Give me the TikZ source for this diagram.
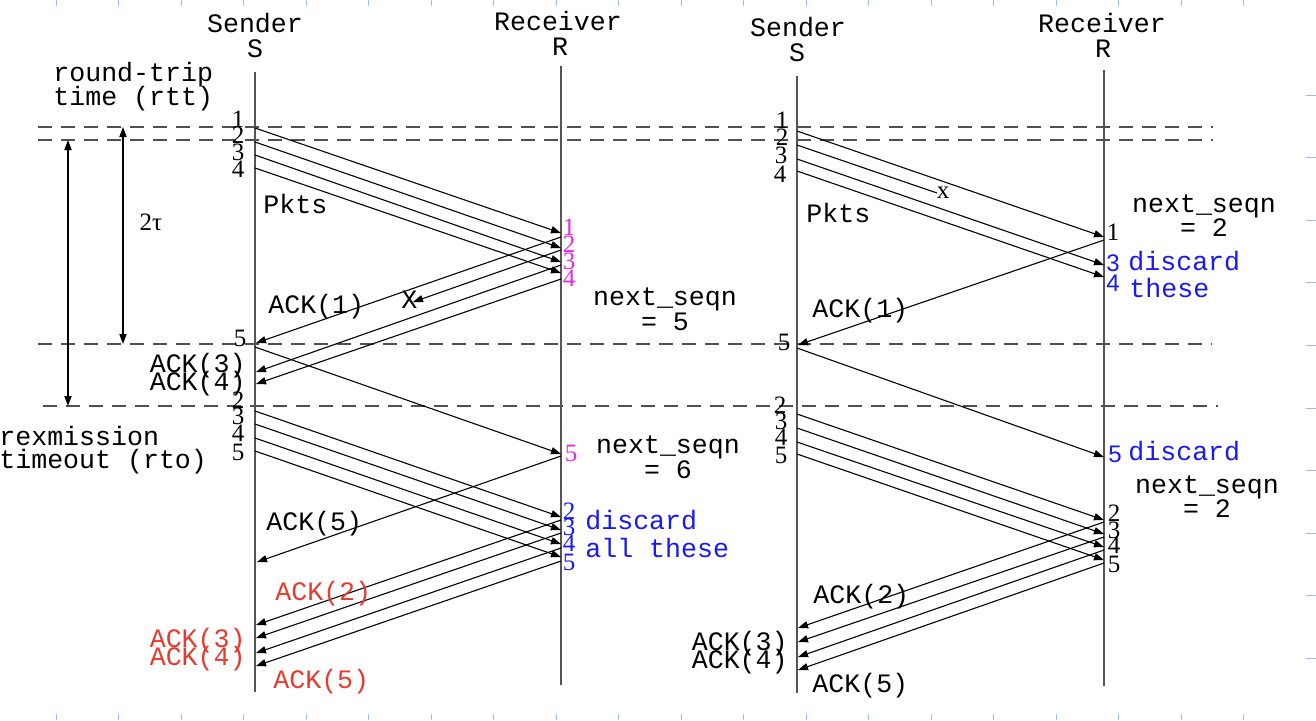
\documentclass[tikz,border=0pt]{standalone}
\usepackage{fontspec}
\setmainfont{Liberation Serif}
\setmonofont{Liberation Mono}
\newfontfamily\sansdig{Liberation Sans}
\usetikzlibrary{arrows.meta}
\definecolor{lifegray}{RGB}{85,85,85}
\definecolor{dashgray}{RGB}{80,80,80}
\definecolor{ackred}{RGB}{229,58,46}
\definecolor{pktmag}{RGB}{230,40,230}
\definecolor{dblue}{RGB}{25,25,240}
\definecolor{tickblue}{RGB}{165,185,228}
\begin{document}
\begin{tikzpicture}[x=0.5pt,y=-0.5pt,
  life/.style={draw=lifegray,line width=0.8pt},
  msg/.style={draw=black,line width=0.55pt,-{Triangle[length=5pt,width=3.6pt]}},
  lostmsg/.style={draw=black,line width=0.55pt},
  sepline/.style={draw=dashgray,line width=0.75pt,dash pattern=on 7pt off 4.5pt},
  dimarrow/.style={draw=black,line width=0.6pt,{Triangle[length=5pt,width=3.6pt]}-{Triangle[length=5pt,width=3.6pt]}},
  mono/.style={font=\fontsize{13.3}{14}\ttfamily,inner sep=0pt},
  num/.style={font=\fontsize{12.5}{13}\selectfont,inner sep=0pt},
  sdig/.style={font=\fontsize{12}{13}\sansdig,inner sep=0pt},
  tickmark/.style={draw=tickblue,line width=0.5pt}]
\useasboundingbox (0,0) rectangle (1316,720);

% frame ticks
\foreach \i in {0,...,19} {
  \draw[tickmark] (56+62.5*\i,0) -- (56+62.5*\i,6);
  \draw[tickmark] (56+62.5*\i,714) -- (56+62.5*\i,720);
}
\foreach \k in {0,...,9} {
  \draw[tickmark] (1306,95+62.6*\k) -- (1316,95+62.6*\k);
}

% lifelines
\coordinate (LSt) at (255,72);  \coordinate (LSb) at (255,692);
\coordinate (LRt) at (561,66);  \coordinate (LRb) at (561,685);
\coordinate (RSt) at (797,76);  \coordinate (RSb) at (797,693);
\coordinate (RRt) at (1104,70); \coordinate (RRb) at (1104,686);
\draw[life] (LSt) -- (LSb);
\draw[life] (LRt) -- (LRb);
\draw[life] (RSt) -- (RSb);
\draw[life] (RRt) -- (RRb);

% dashed separators
\coordinate (D1a) at (38,127);  \coordinate (D1b) at (1213,127);
\coordinate (D2a) at (38,140);  \coordinate (D2b) at (1213,140);
\coordinate (D3a) at (38,344);  \coordinate (D3b) at (1212,344);
\coordinate (D4a) at (43,406);  \coordinate (D4b) at (1218,406);
\draw[sepline] (D1a) -- (D1b);
\draw[sepline] (D2a) -- (D2b);
\draw[sepline] (D3a) -- (D3b);
\draw[sepline] (D4a) -- (D4b);

% rtt / rto arrows
\coordinate (Ta) at (123,127); \coordinate (Tb) at (123,344);
\coordinate (Oa) at (68,140);  \coordinate (Ob) at (68,406);
\draw[dimarrow] (Ta) -- (Tb);
\draw[dimarrow] (Oa) -- (Ob);

% headers
\node[mono,anchor=base] (hLS) at (255,32) {Sender};
\node[mono,anchor=base] (hLS2) at (255,57) {S};
\node[mono,anchor=base] (hLR) at (558,30) {Receiver};
\node[mono,anchor=base] (hLR2) at (560,55) {R};
\node[mono,anchor=base] (hRS) at (798,36) {Sender};
\node[mono,anchor=base] (hRS2) at (797,61) {S};
\node[mono,anchor=base] (hRR) at (1102,32) {Receiver};
\node[mono,anchor=base] (hRR2) at (1103,57) {R};

% left annotations
\node[mono,anchor=base west] (rtt1) at (53,81) {round-trip};
\node[mono,anchor=base west] (rtt2) at (53,105) {time (rtt)};
\node[num] (tau) at (151,222) {2τ};
\node[mono,anchor=base west] (rto1) at (-1,445) {rexmission};
\node[mono,anchor=base west] (rto2) at (-1,468) {timeout (rto)};

% ===== LEFT DIAGRAM =====
% first window
\foreach \n/\ys/\yr in {1/128/233, 2/142/248, 3/155/262, 4/168/273} {
  \coordinate (Lp\n s) at (255,\ys); \coordinate (Lp\n r) at (561,\yr);
  \draw[msg] (Lp\n s) -- (Lp\n r);
}
\foreach \n/\yr/\ys in {1/237/343, 3/265/372, 4/279/384} {
  \coordinate (La\n r) at (561,\yr); \coordinate (La\n s) at (256,\ys);
  \draw[msg] (La\n r) -- (La\n s);
}
\coordinate (La2r) at (561,250); \coordinate (La2x) at (413,302);
\draw[msg] (La2r) -- (La2x);
% packet 5 and ack 5
\coordinate (Lp5s) at (255,347); \coordinate (Lp5r) at (561,454);
\draw[msg] (Lp5s) -- (Lp5r);
\coordinate (La5r) at (561,456); \coordinate (La5s) at (257,562);
\draw[msg] (La5r) -- (La5s);
% retransmissions
\foreach \n/\ys/\yr in {2/411/517, 3/424/530, 4/438/544, 5/451/557} {
  \coordinate (Lq\n s) at (255,\ys); \coordinate (Lq\n r) at (561,\yr);
  \draw[msg] (Lq\n s) -- (Lq\n r);
}
\foreach \n/\yr/\ys in {2/520/625, 3/533/638, 4/548/653, 5/561/666} {
  \coordinate (Lb\n r) at (561,\yr); \coordinate (Lb\n s) at (256,\ys);
  \draw[msg] (Lb\n r) -- (Lb\n s);
}

% left sender numbers
\node[num] (ls1) at (238,119) {1};
\node[num] (ls2) at (238,135) {2};
\node[num] (ls3) at (238,152) {3};
\node[num] (ls4) at (238,169) {4};
\node[num] (ls5) at (240,338) {5};
\node[num] (ls2b) at (238,400) {2};
\node[num] (ls3b) at (238,416) {3};
\node[num] (ls4b) at (238,433) {4};
\node[num] (ls5b) at (238,452) {5};
% left receiver numbers
\node[num,text=pktmag] (lr1) at (569,227) {1};
\node[num,text=pktmag] (lr2) at (569,244) {2};
\node[num,text=pktmag] (lr3) at (569,261) {3};
\node[num,text=pktmag] (lr4) at (569,278) {4};
\node[num,text=pktmag] (lr5) at (571,453) {5};
\node[num,text=dblue] (lr2b) at (569,511) {2};
\node[num,text=dblue] (lr3b) at (569,527) {3};
\node[num,text=dblue] (lr4b) at (569,543) {4};
\node[num,text=dblue] (lr5b) at (569,562) {5};

% left labels
\node[mono,anchor=base west] (lpkts) at (263,213) {Pkts};
\node[mono,anchor=base west] (lack1) at (268,313) {ACK(1)};
\node[mono,anchor=base west] (lx) at (401,308) {X};
\node[mono,anchor=base] (lns1) at (665,305) {next\_seqn};
\node[mono,anchor=base] (lns1b) at (665,330) {= 5};
\node[mono,anchor=base east] (lack3) at (246,372) {ACK(3)};
\node[mono,anchor=base east] (lack4) at (246,390) {ACK(4)};
\node[mono,anchor=base] (lns2) at (668,453) {next\_seqn};
\node[mono,anchor=base] (lns2b) at (668,478) {= 6};
\node[mono,anchor=base west] (lack5) at (266,530) {ACK(5)};
\node[mono,anchor=base west,text=dblue] (ldis1) at (585,529) {discard};
\node[mono,anchor=base west,text=dblue] (ldis2) at (585,557) {all these};
\node[mono,anchor=base west,text=ackred] (lrack2) at (275,600) {ACK(2)};
\node[mono,anchor=base east,text=ackred] (lrack3) at (246,647) {ACK(3)};
\node[mono,anchor=base east,text=ackred] (lrack4) at (246,665) {ACK(4)};
\node[mono,anchor=base west,text=ackred] (lrack5) at (273,688) {ACK(5)};

% ===== RIGHT DIAGRAM =====
\foreach \n/\ys/\yr in {1/131/237, 3/159/265, 4/171/277} {
  \coordinate (Rp\n s) at (797,\ys); \coordinate (Rp\n r) at (1104,\yr);
  \draw[msg] (Rp\n s) -- (Rp\n r);
}
\coordinate (Rp2s) at (797,145); \coordinate (Rp2x) at (937,193);
\draw[lostmsg] (Rp2s) -- (Rp2x);
\coordinate (Ra1r) at (1104,240); \coordinate (Ra1s) at (798,345);
\draw[msg] (Ra1r) -- (Ra1s);
\coordinate (Rp5s) at (797,348); \coordinate (Rp5r) at (1104,457);
\draw[msg] (Rp5s) -- (Rp5r);
\foreach \n/\ys/\yr in {2/414/520, 3/428/534, 4/442/547, 5/454/560} {
  \coordinate (Rq\n s) at (797,\ys); \coordinate (Rq\n r) at (1104,\yr);
  \draw[msg] (Rq\n s) -- (Rq\n r);
}
\foreach \n/\yr/\ys in {2/522/628, 3/537/642, 4/550/657, 5/563/670} {
  \coordinate (Rb\n r) at (1104,\yr); \coordinate (Rb\n s) at (798,\ys);
  \draw[msg] (Rb\n r) -- (Rb\n s);
}

% right sender numbers
\node[num] (rs1) at (782,120) {1};
\node[num] (rs2) at (782,137) {2};
\node[num] (rs3) at (781,155) {3};
\node[num] (rs4) at (780,174) {4};
\node[num] (rs5) at (784,342) {5};
\node[num] (rs2b) at (780,405) {2};
\node[num] (rs3b) at (781,421) {3};
\node[num] (rs4b) at (781,437) {4};
\node[num] (rs5b) at (781,455) {5};
% right receiver numbers
\node[num] (rr1) at (1113,232) {1};
\node[sdig,text=dblue] (rr3) at (1113,263) {3};
\node[sdig,text=dblue] (rr4) at (1113,283) {4};
\node[sdig,text=dblue] (rr5) at (1115,454) {5};
\node[num] (rr2b) at (1114,513) {2};
\node[num] (rr3b) at (1114,530) {3};
\node[num] (rr4b) at (1114,545) {4};
\node[num] (rr5b) at (1114,564) {5};

% right labels
\node[num] (rx) at (943,193) {x};
\node[mono,anchor=base west] (rpkts) at (806,222) {Pkts};
\node[mono,anchor=base west] (rack1) at (812,317) {ACK(1)};
\node[mono,anchor=base] (rns1) at (1204,212) {next\_seqn};
\node[mono,anchor=base] (rns1b) at (1204,236) {= 2};
\node[mono,anchor=base west,text=dblue] (rdis1) at (1128,270) {discard};
\node[mono,anchor=base west,text=dblue] (rdis2) at (1129,297) {these};
\node[mono,anchor=base west,text=dblue] (rdis3) at (1128,460) {discard};
\node[mono,anchor=base] (rns2) at (1207,493) {next\_seqn};
\node[mono,anchor=base] (rns2b) at (1207,517) {= 2};
\node[mono,anchor=base west] (rack2) at (813,603) {ACK(2)};
\node[mono,anchor=base east] (rack3) at (788,650) {ACK(3)};
\node[mono,anchor=base east] (rack4) at (788,668) {ACK(4)};
\node[mono,anchor=base west] (rack5) at (812,692) {ACK(5)};
\end{tikzpicture}
\end{document}
